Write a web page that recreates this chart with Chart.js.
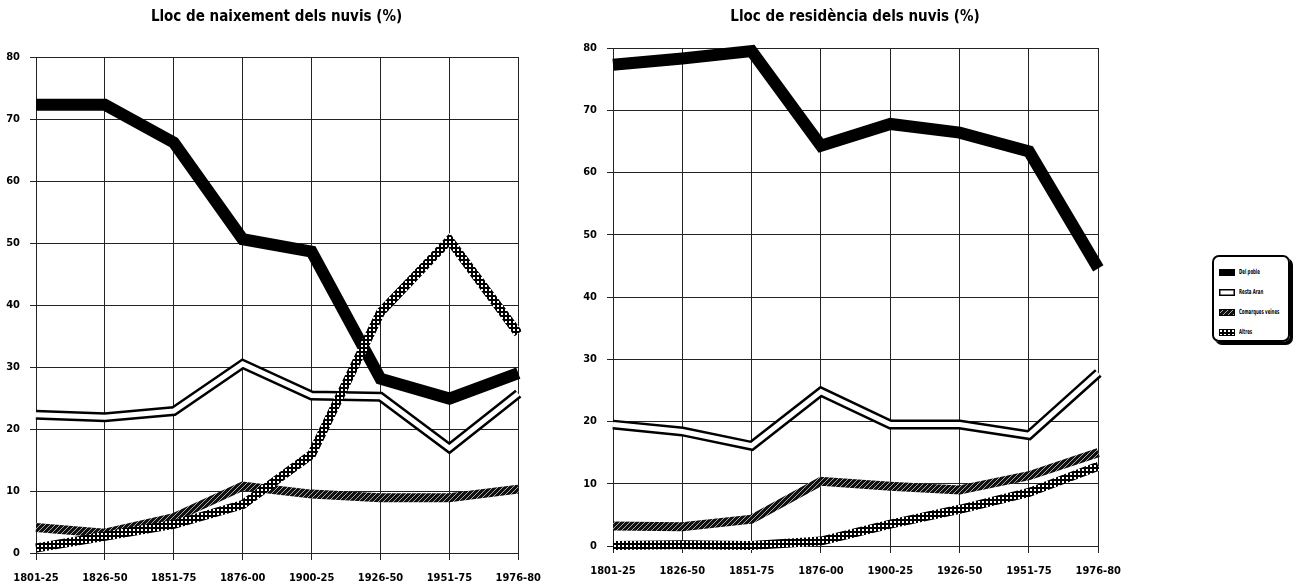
<!DOCTYPE html>
<html><head><meta charset="utf-8">
<script src="https://cdn.jsdelivr.net/npm/chart.js@4/dist/chart.umd.min.js"></script>
<style>
body{margin:0;background:#fff;width:1297px;height:588px;position:relative;overflow:hidden;font-family:'Liberation Sans Narrow','DejaVu Sans Condensed','Liberation Sans',sans-serif}
#c1{position:absolute;left:0;top:0}
#c2{position:absolute;left:577px;top:0}
#legend{position:absolute;left:1212px;top:255px;width:78px;height:87px;border:2px solid #000;border-radius:7px;box-shadow:3px 3px 0 #000;box-sizing:border-box;padding:5px 0 0 5px}
.row{height:20px;display:flex;align-items:center;font-weight:bold;font-size:7px;white-space:nowrap;color:#000}
.row canvas{margin-right:4px;flex:none}
.row span{display:inline-block;transform:scaleX(.62);transform-origin:left center}
</style>
</head><body>
<canvas id="c1" width="553" height="588"></canvas>
<canvas id="c2" width="556" height="588"></canvas>
<div id="legend"></div>
<script>
const periods = ['1801-25','1826-50','1851-75','1876-00','1900-25','1926-50','1951-75','1976-80'];
const yTicks = [0,10,20,30,40,50,60,70,80];
const seriesNames = ['Del poble','Resta Aran','Comarques veïnes','Altres'];

// Lloc de naixement
const delPobleN   = [72.3,72.3,66.2,50.6,48.6,28.1,24.9,29.0];
const restaAranN  = [22.3,21.9,22.9,30.5,25.4,25.2,16.9,25.7];
const comarquesN  = [4.1,3.2,5.7,10.8,9.5,8.9,8.9,10.3];
const altresN     = [0.8,2.7,4.6,7.8,15.9,38.8,50.5,35.4];

// Lloc de residència
const delPobleR   = [77.3,78.3,79.5,64.3,67.8,66.4,63.4,44.6];
const restaAranR  = [19.5,18.4,16.1,24.8,19.5,19.5,17.8,27.8];
const comarquesR  = [3.2,3.1,4.3,10.4,9.6,9.0,11.3,15.0];
const altresR     = [0.1,0.2,0.1,0.8,3.5,5.9,8.6,12.8];

const FONT = "'Liberation Sans Narrow','DejaVu Sans Condensed','Liberation Sans',sans-serif";

function makeHatch(){
  const c=document.createElement('canvas');c.width=5;c.height=5;
  const g=c.getContext('2d');
  g.fillStyle='#111';g.fillRect(0,0,5,5);
  g.strokeStyle='#aaa';g.lineWidth=1;
  g.beginPath();g.moveTo(0,5);g.lineTo(5,0);g.stroke();
  return c;
}
function makeDots(){
  const c=document.createElement('canvas');c.width=4;c.height=4;
  const g=c.getContext('2d');
  g.fillStyle='#000';g.fillRect(0,0,4,4);
  g.fillStyle='#fff';g.fillRect(1,1,2,2);
  return c;
}
const hatchTile=makeHatch(), dotTile=makeDots();

function datasets(ctx, dp, ra, cv, al, w){
  const hatch=ctx.createPattern(hatchTile,'repeat');
  const dots=ctx.createPattern(dotTile,'repeat');
  const base={fill:false,pointRadius:0,pointHoverRadius:0,tension:0,borderJoinStyle:'miter',borderCapStyle:'butt',clip:false};
  return [
    Object.assign({},base,{label:seriesNames[3],data:al,borderColor:dots,borderWidth:9,order:0}),
    Object.assign({},base,{label:seriesNames[0],data:dp,borderColor:'#000',borderWidth:w,order:1}),
    Object.assign({},base,{label:seriesNames[2],data:cv,borderColor:hatch,borderWidth:9,order:2}),
    Object.assign({},base,{label:seriesNames[1]+' (vora)',data:ra,borderColor:'#000',borderWidth:10,order:4}),
    Object.assign({},base,{label:seriesNames[1],data:ra,borderColor:'#fff',borderWidth:5,order:3})
  ];
}

function makeChart(id, title, dp, ra, cv, al, titleBottom, xHeight){
  const el=document.getElementById(id);
  const ctx=el.getContext('2d');
  return new Chart(ctx,{
    type:'line',
    data:{labels:periods,datasets:datasets(ctx,dp,ra,cv,al,12)},
    options:{
      responsive:false,animation:false,
      layout:{padding:{left:0,right:0,top:0,bottom:0}},
      plugins:{
        legend:{display:false},tooltip:{enabled:false},
        title:{display:true,text:title,color:'#000',font:{family:FONT,size:15,weight:'bold'},padding:{top:8,bottom:titleBottom}}
      },
      scales:{
        x:{
          afterFit:s=>{s.height=xHeight;},
          grid:{color:'#222',lineWidth:1,tickLength:7,drawOnChartArea:true},
          border:{color:'#222',width:1},
          ticks:{color:'#000',font:{family:FONT,size:11,weight:'bold'},maxRotation:0,autoSkip:false,padding:12}
        },
        y:{
          min:0,max:80,
          afterFit:s=>{s.width=36;},
          afterBuildTicks:s=>{s.ticks=yTicks.map(v=>({value:v}));},
          grid:{color:'#222',lineWidth:1,tickLength:6},
          border:{color:'#222',width:1},
          ticks:{color:'#000',font:{family:FONT,size:11,weight:'bold'},padding:10}
        }
      }
    }
  });
}

makeChart('c1','Lloc de naixement dels nuvis (%)',delPobleN,restaAranN,comarquesN,altresN,31,35);
makeChart('c2','Lloc de residència dels nuvis (%)',delPobleR,restaAranR,comarquesR,altresR,22,42);

// legend
const leg=document.getElementById('legend');
seriesNames.forEach((n,i)=>{
  const row=document.createElement('div');row.className='row';
  const sw=document.createElement('canvas');sw.width=16;sw.height=7;
  const g=sw.getContext('2d');
  if(i===0){g.fillStyle='#000';g.fillRect(0,0,16,7);}
  else if(i===1){g.fillStyle='#fff';g.fillRect(0,0,16,7);g.strokeStyle='#000';g.lineWidth=1.5;g.strokeRect(0.75,0.75,14.5,5.5);}
  else{g.fillStyle=g.createPattern(i===2?hatchTile:dotTile,'repeat');g.fillRect(0,0,16,7);g.strokeStyle='#000';g.lineWidth=1;g.strokeRect(0.5,0.5,15,6);}
  row.appendChild(sw);
  const t=document.createElement('span');t.textContent=n;row.appendChild(t);
  leg.appendChild(row);
});
</script>
</body></html>
